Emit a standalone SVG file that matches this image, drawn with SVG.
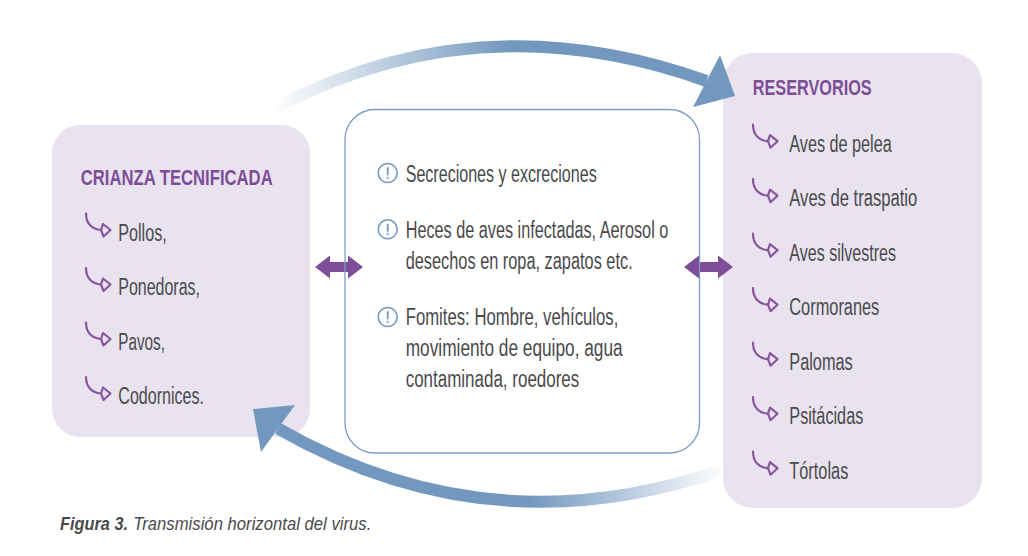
<svg xmlns="http://www.w3.org/2000/svg" width="1028" height="556" viewBox="0 0 1028 556">
  <style>
    .box { fill: #e9e3f0; }
    .head { font-family: "Liberation Sans", Arial, sans-serif; font-weight: bold; font-size: 22.5px; fill: #7e4d97; }
    .item { font-family: "Liberation Sans", Arial, sans-serif; font-size: 23.5px; fill: #4a4a4c; }
    .cap { font-family: "Liberation Sans", Arial, sans-serif; font-size: 18.5px; font-style: italic; fill: #4a4a4c; }
    .warn { fill: none; stroke: #7398c2; stroke-width: 1.6; }
    .dbl { fill: #7e4d97; }
    .big { fill: #7398bf; }
  </style>
  <defs>
    <g id="hook" fill="none" stroke="#8a559f" stroke-width="2.2" stroke-linecap="round" stroke-linejoin="round">
      <path d="M0,0 C0,10 6,16 15,16.5"/>
      <path d="M15,16.5 L17,10.5 L24.5,16.5 L17.5,23 Z"/>
    </g>
    <g id="warn">
      <circle class="warn" cx="0" cy="0" r="9.5"/>
      <line x1="0" y1="-5" x2="0" y2="1.5" stroke="#7398c2" stroke-width="1.8" stroke-linecap="round"/>
      <circle cx="0" cy="4.8" r="1.1" fill="#7398c2"/>
    </g>
    <linearGradient id="gTop" gradientUnits="userSpaceOnUse" x1="272" y1="0" x2="510" y2="0">
      <stop offset="0" stop-color="#7398bf" stop-opacity="0"/>
      <stop offset="1" stop-color="#7398bf" stop-opacity="1"/>
    </linearGradient>
    <linearGradient id="gBot" gradientUnits="userSpaceOnUse" x1="725" y1="0" x2="530" y2="0">
      <stop offset="0" stop-color="#7398bf" stop-opacity="0"/>
      <stop offset="1" stop-color="#7398bf" stop-opacity="1"/>
    </linearGradient>
  </defs>

  <rect x="0" y="0" width="1028" height="556" fill="#ffffff"/>

  <g id="crianza">
    <rect class="box" x="52" y="125" width="258" height="312" rx="28"/>
    <text class="head" x="80.7" y="185" textLength="192" lengthAdjust="spacingAndGlyphs">CRIANZA TECNIFICADA</text>
    <use href="#hook" x="86" y="213.5"/>
    <text class="item" x="118.3" y="240.5" textLength="48.4" lengthAdjust="spacingAndGlyphs">Pollos,</text>
    <use href="#hook" x="86" y="268"/>
    <text class="item" x="118.3" y="295" textLength="81.7" lengthAdjust="spacingAndGlyphs">Ponedoras,</text>
    <use href="#hook" x="86" y="322.5"/>
    <text class="item" x="118.3" y="349.5" textLength="46.7" lengthAdjust="spacingAndGlyphs">Pavos,</text>
    <use href="#hook" x="86" y="377"/>
    <text class="item" x="118.3" y="404" textLength="85.7" lengthAdjust="spacingAndGlyphs">Codornices.</text>
  </g>

  <g id="reservorios">
    <rect class="box" x="723" y="53" width="259" height="455" rx="30"/>
    <text class="head" x="752.7" y="95" textLength="119" lengthAdjust="spacingAndGlyphs">RESERVORIOS</text>
    <use href="#hook" x="753" y="124.7"/>
    <text class="item" x="789.3" y="151.7" textLength="102.4" lengthAdjust="spacingAndGlyphs">Aves de pelea</text>
    <use href="#hook" x="753" y="179.2"/>
    <text class="item" x="789.3" y="206.2" textLength="128" lengthAdjust="spacingAndGlyphs">Aves de traspatio</text>
    <use href="#hook" x="753" y="233.7"/>
    <text class="item" x="789.3" y="260.7" textLength="106.7" lengthAdjust="spacingAndGlyphs">Aves silvestres</text>
    <use href="#hook" x="753" y="288.2"/>
    <text class="item" x="789.3" y="315.2" textLength="90" lengthAdjust="spacingAndGlyphs">Cormoranes</text>
    <use href="#hook" x="753" y="342.7"/>
    <text class="item" x="789.3" y="369.7" textLength="63.4" lengthAdjust="spacingAndGlyphs">Palomas</text>
    <use href="#hook" x="753" y="397.2"/>
    <text class="item" x="789.3" y="424.2" textLength="74" lengthAdjust="spacingAndGlyphs">Psitácidas</text>
    <use href="#hook" x="753" y="451.7"/>
    <text class="item" x="789.3" y="478.7" textLength="59" lengthAdjust="spacingAndGlyphs">Tórtolas</text>
  </g>

  <g id="connectors">
    <path d="M275,108 Q480,0 706.5,81" fill="none" stroke="url(#gTop)" stroke-width="12"/>
    <polygon class="big" points="720,55 735,96 693,107"/>
    <path d="M722,470 Q490,550 278,428.5" fill="none" stroke="url(#gBot)" stroke-width="12"/>
    <polygon class="big" points="295,405 253,409 261,452"/>
    <polygon class="dbl" points="315,267 330,255.5 330,262 348,262 348,255.5 363,267 348,278.5 348,272 330,272 330,278.5"/>
    <polygon class="dbl" points="684,267 699,255.5 699,262 718,262 718,255.5 733,267 718,278.5 718,272 699,272 699,278.5"/>
  </g>

  <g id="transmision">
    <rect x="345" y="109.5" width="354.5" height="343.5" rx="30" fill="none" stroke="#7b9dc4" stroke-width="1.3"/>
    <use href="#warn" x="387.7" y="173"/>
    <text class="item" x="405.7" y="181.5" textLength="191" lengthAdjust="spacingAndGlyphs">Secreciones y excreciones</text>
    <use href="#warn" x="387.7" y="229.3"/>
    <text class="item" x="405.7" y="237.5" textLength="262.6" lengthAdjust="spacingAndGlyphs">Heces de aves infectadas, Aerosol o</text>
    <text class="item" x="405.7" y="268.5" textLength="227" lengthAdjust="spacingAndGlyphs">desechos en ropa, zapatos etc.</text>
    <use href="#warn" x="387.7" y="317"/>
    <text class="item" x="405.7" y="325" textLength="212.6" lengthAdjust="spacingAndGlyphs">Fomites: Hombre, vehículos,</text>
    <text class="item" x="405.7" y="356" textLength="217" lengthAdjust="spacingAndGlyphs">movimiento de equipo, agua</text>
    <text class="item" x="405.7" y="387" textLength="173.6" lengthAdjust="spacingAndGlyphs">contaminada, roedores</text>
  </g>

  <g id="caption">
    <text class="cap" x="60" y="530" font-weight="bold" textLength="68" lengthAdjust="spacingAndGlyphs">Figura 3.</text>
    <text class="cap" x="133.3" y="530" textLength="238" lengthAdjust="spacingAndGlyphs">Transmisión horizontal del virus.</text>
  </g>
</svg>
